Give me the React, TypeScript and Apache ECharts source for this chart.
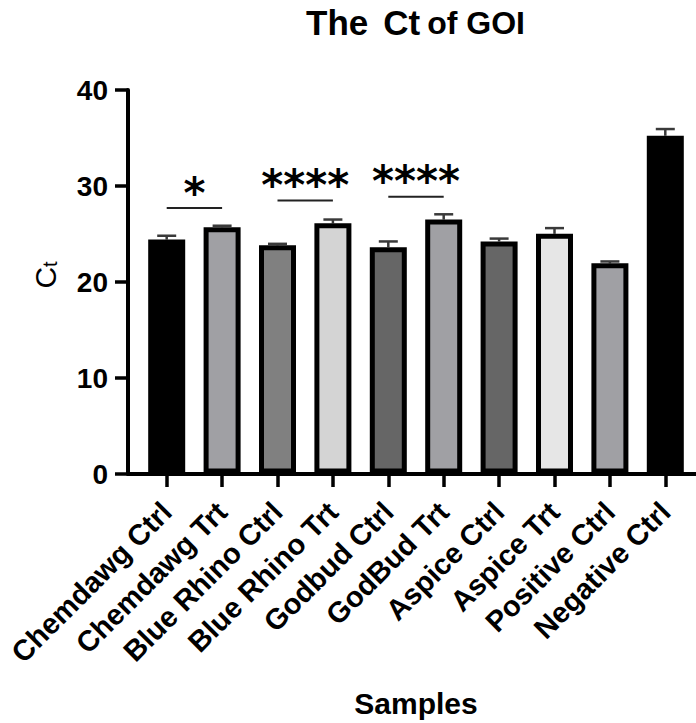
import React, { useEffect, useRef } from 'react';
import * as echarts from 'echarts';

const FONT = '"Liberation Sans", Arial, Helvetica, sans-serif';

const categories = [
  'Chemdawg Ctrl',
  'Chemdawg Trt',
  'Blue Rhino Ctrl',
  'Blue Rhino Trt',
  'Godbud Ctrl',
  'GodBud Trt',
  'Aspice Ctrl',
  'Aspice Trt',
  'Positive Ctrl',
  'Negative Ctrl',
];
const ctMeans = [24.3, 25.6, 23.7, 26.0, 23.5, 26.4, 24.1, 24.9, 21.8, 35.2];
const ctErrors = [0.4, 0.15, 0.15, 0.4, 0.6, 0.55, 0.3, 0.6, 0.2, 0.7];
const barColors = ['#000000', '#a0a0a4', '#808080', '#d4d4d4', '#666666', '#a0a0a4', '#666666', '#e6e6e6', '#a0a0a4', '#000000'];

const sigStart = [0, 2, 4];
const sigEnd = [1, 3, 5];
const sigLevel = [27.6, 28.4, 28.8];
const sigLabel = ['*', '****', '****'];

const yTicks = { min: 0, max: 40, interval: 10 };
const yTitle = ['{c|C}{t|t}'];

export default function App() {
  const ref = useRef<HTMLDivElement>(null);
  useEffect(() => {
    document.body.style.margin = '0';
    const chart = echarts.init(ref.current!, null, { renderer: 'svg' });
    const BW = 37;
    const BORDER = 5;
    const option: any = {
      animation: false,
      title: {
        text: '{a|The}{c|Ct}{b|of GOI}',
        left: 301,
        top: 0,
        textStyle: {
          rich: {
            a: { fontSize: 35, fontWeight: 'bold', fontFamily: FONT, color: '#000' },
            c: { fontSize: 35, fontWeight: 'bold', fontFamily: FONT, color: '#000', padding: [0, 0, 0, 15] },
            b: { fontSize: 32, fontWeight: 'bold', fontFamily: FONT, color: '#000', padding: [0, 0, 0, 7] },
          },
        },
      },
      grid: [
        { left: 128, right: 0, top: 90, bottom: 249 },
        { left: 139, right: 3, top: 90, bottom: 249 },
      ],
      xAxis: [
        {
          gridIndex: 0,
          type: 'value',
          min: 0,
          max: 1,
          axisLine: { show: true, onZero: false, lineStyle: { color: '#000', width: 4 } },
          axisTick: { show: false },
          axisLabel: { show: false },
          splitLine: { show: false },
        },
        {
          gridIndex: 1,
          type: 'category',
          data: categories,
          axisLine: { show: false },
          axisTick: { show: true, alignWithLabel: true, length: 16, lineStyle: { color: '#000', width: 3.5 } },
          axisLabel: {
            interval: 0,
            rotate: 45,
            fontSize: 29,
            fontWeight: 'bold',
            color: '#000',
            fontFamily: FONT,
            margin: 36,
            padding: [10, 0, 0, 0],
          },
          name: 'Samples',
          nameLocation: 'middle',
          nameGap: 217,
          nameTextStyle: { fontSize: 30, fontWeight: 'bold', color: '#000', fontFamily: FONT },
        },
      ],
      yAxis: [
        {
          gridIndex: 0,
          type: 'value',
          min: yTicks.min,
          max: yTicks.max,
          interval: yTicks.interval,
          axisLine: { show: true, lineStyle: { color: '#000', width: 4 } },
          axisTick: { show: true, length: 13, lineStyle: { color: '#000', width: 3.5 } },
          axisLabel: { fontSize: 28, fontWeight: 'bold', color: '#000', fontFamily: FONT, margin: 20 },
          splitLine: { show: false },
        },
        {
          gridIndex: 1,
          type: 'value',
          min: yTicks.min,
          max: yTicks.max,
          interval: yTicks.interval,
          show: false,
        },
        {
          gridIndex: 0,
          type: 'category',
          position: 'left',
          data: yTitle,
          axisLine: { show: false },
          axisTick: { show: false },
          splitLine: { show: false },
          axisLabel: {
            rotate: 90,
            margin: 68,
            padding: [0, 0, 0, 14],
            rich: {
              c: { fontSize: 30, lineHeight: 30, fontFamily: FONT, color: '#000' },
              t: { fontSize: 20, lineHeight: 12, verticalAlign: 'bottom', fontFamily: FONT, color: '#000' },
            },
          },
        },
      ],
      series: [
        {
          type: 'custom',
          xAxisIndex: 1,
          yAxisIndex: 1,
          encode: { x: 0, y: 1 },
          data: categories.map((_, i) => [i, ctMeans[i], ctErrors[i]]),
          renderItem: (params: any, api: any) => {
            const i = api.value(0);
            const v = api.value(1);
            const e = api.value(2);
            const top = api.coord([i, v]);
            const base = api.coord([i, 0]);
            const cap = api.coord([i, v + e]);
            const half = BW / 2;
            return {
              type: 'group',
              children: [
                {
                  type: 'line',
                  shape: { x1: top[0], y1: top[1], x2: cap[0], y2: cap[1] },
                  style: { stroke: '#3a3a3a', lineWidth: 2.5 },
                },
                {
                  type: 'line',
                  shape: { x1: cap[0] - 9.5, y1: cap[1], x2: cap[0] + 9.5, y2: cap[1] },
                  style: { stroke: '#3a3a3a', lineWidth: 2.5 },
                },
                {
                  type: 'rect',
                  shape: {
                    x: top[0] - half + BORDER / 2,
                    y: top[1] + BORDER / 2,
                    width: BW - BORDER,
                    height: base[1] - top[1] - BORDER / 2,
                  },
                  style: { fill: barColors[i], stroke: '#000', lineWidth: BORDER },
                },
              ],
            };
          },
        },
        {
          type: 'custom',
          xAxisIndex: 1,
          yAxisIndex: 1,
          encode: { x: [0, 1], y: 2 },
          data: sigStart.map((s, k) => [s, sigEnd[k], sigLevel[k]]),
          renderItem: (params: any, api: any) => {
            const p0 = api.coord([api.value(0), api.value(2)]);
            const p1 = api.coord([api.value(1), api.value(2)]);
            return {
              type: 'group',
              children: [
                {
                  type: 'line',
                  shape: { x1: p0[0], y1: p0[1], x2: p1[0], y2: p1[1] },
                  style: { stroke: '#222', lineWidth: 2 },
                },
                {
                  type: 'text',
                  x: (p0[0] + p1[0]) / 2,
                  y: p0[1] - 15,
                  style: {
                    text: sigLabel[params.dataIndex],
                    fontSize: 42,
                    fontWeight: 'bold',
                    fontFamily: '"DejaVu Sans", sans-serif',
                    fill: '#000',
                    align: 'center',
                    verticalAlign: 'middle',
                  },
                },
              ],
            };
          },
        },
      ],
    };
    chart.setOption(option);
    return () => chart.dispose();
  }, []);
  return <div ref={ref} style={{ width: 696, height: 723 }} />;
}
